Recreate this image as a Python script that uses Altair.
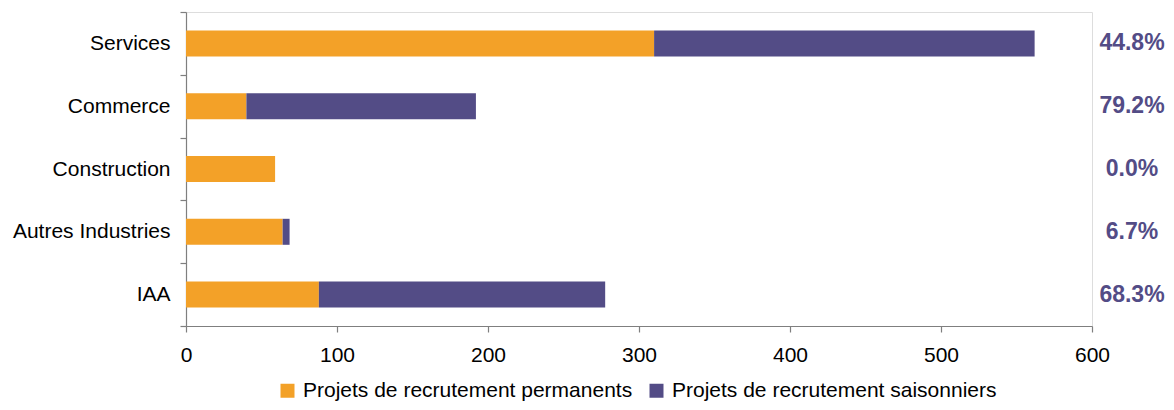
import altair as alt
import pandas as pd

categories = ["Services", "Commerce", "Construction", "Autres Industries", "IAA"]
permanents = [310, 40, 59, 64, 88]
saisonniers = [252, 152, 0, 4.6, 189.6]
pct_labels = ["44.8%", "79.2%", "0.0%", "6.7%", "68.3%"]
series = ["Projets de recrutement permanents", "Projets de recrutement saisonniers"]
colors = ["#F3A128", "#534C86"]

rows = []
for c, p, s in zip(categories, permanents, saisonniers):
    rows.append({"cat": c, "serie": series[0], "val": p, "ord": 0})
    rows.append({"cat": c, "serie": series[1], "val": s, "ord": 1})
df = pd.DataFrame(rows)
df_pct = pd.DataFrame({"cat": categories, "pct": pct_labels})

FONT = "Liberation Sans"
AXIS_GRAY = "#7f7f7f"

y_enc = alt.Y(
    "cat:N",
    sort=categories,
    title=None,
    scale=alt.Scale(paddingInner=0, paddingOuter=0),
    axis=alt.Axis(
        tickBand="extent",
        labelFont=FONT,
        labelFontSize=21,
        labelColor="#000000",
        labelPadding=10,
        tickSize=6,
        tickColor=AXIS_GRAY,
        domainColor=AXIS_GRAY,
        domainWidth=1.2,
        tickWidth=1.2,
    ),
)

bars = alt.Chart(df).mark_bar(size=26).encode(
    y=y_enc,
    x=alt.X(
        "val:Q",
        stack="zero",
        title=None,
        scale=alt.Scale(domain=[0, 600], nice=False),
        axis=alt.Axis(
            values=[0, 100, 200, 300, 400, 500, 600],
            grid=False,
            labelFlush=False,
            labelFont=FONT,
            labelFontSize=21,
            labelColor="#000000",
            labelPadding=12,
            tickSize=6,
            tickColor=AXIS_GRAY,
            domainColor=AXIS_GRAY,
            domainWidth=1.2,
            tickWidth=1.2,
        ),
    ),
    color=alt.Color(
        "serie:N",
        sort=series,
        scale=alt.Scale(domain=series, range=colors),
        legend=alt.Legend(
            title=None,
            orient="none",
            direction="horizontal",
            legendX=91,
            legendY=368,
            symbolType="square",
            symbolSize=196,
            symbolStrokeWidth=0,
            symbolOpacity=1,
            labelFont=FONT,
            labelFontSize=21,
            labelColor="#000000",
            labelOffset=5,
            columnPadding=13,
            labelLimit=600,
        ),
    ),
    order=alt.Order("ord:Q"),
)

pct = alt.Chart(df_pct).mark_text(
    font=FONT,
    fontSize=23,
    fontWeight="bold",
    color="#534C86",
    align="center",
    baseline="middle",
    dx=40,
).encode(
    y=alt.Y("cat:N", sort=categories),
    x=alt.datum(600),
    text="pct:N",
)

chart = (
    alt.layer(bars, pct)
    .properties(
        width=906,
        height=314,
        autosize=alt.AutoSizeParams(type="none"),
        padding={"left": 178, "top": 4, "right": 74, "bottom": 76},
    )
    .configure_view(strokeWidth=0)
    .configure(background="white")
)

chart.save("out.html", embed_options={"renderer": "svg", "actions": False})
